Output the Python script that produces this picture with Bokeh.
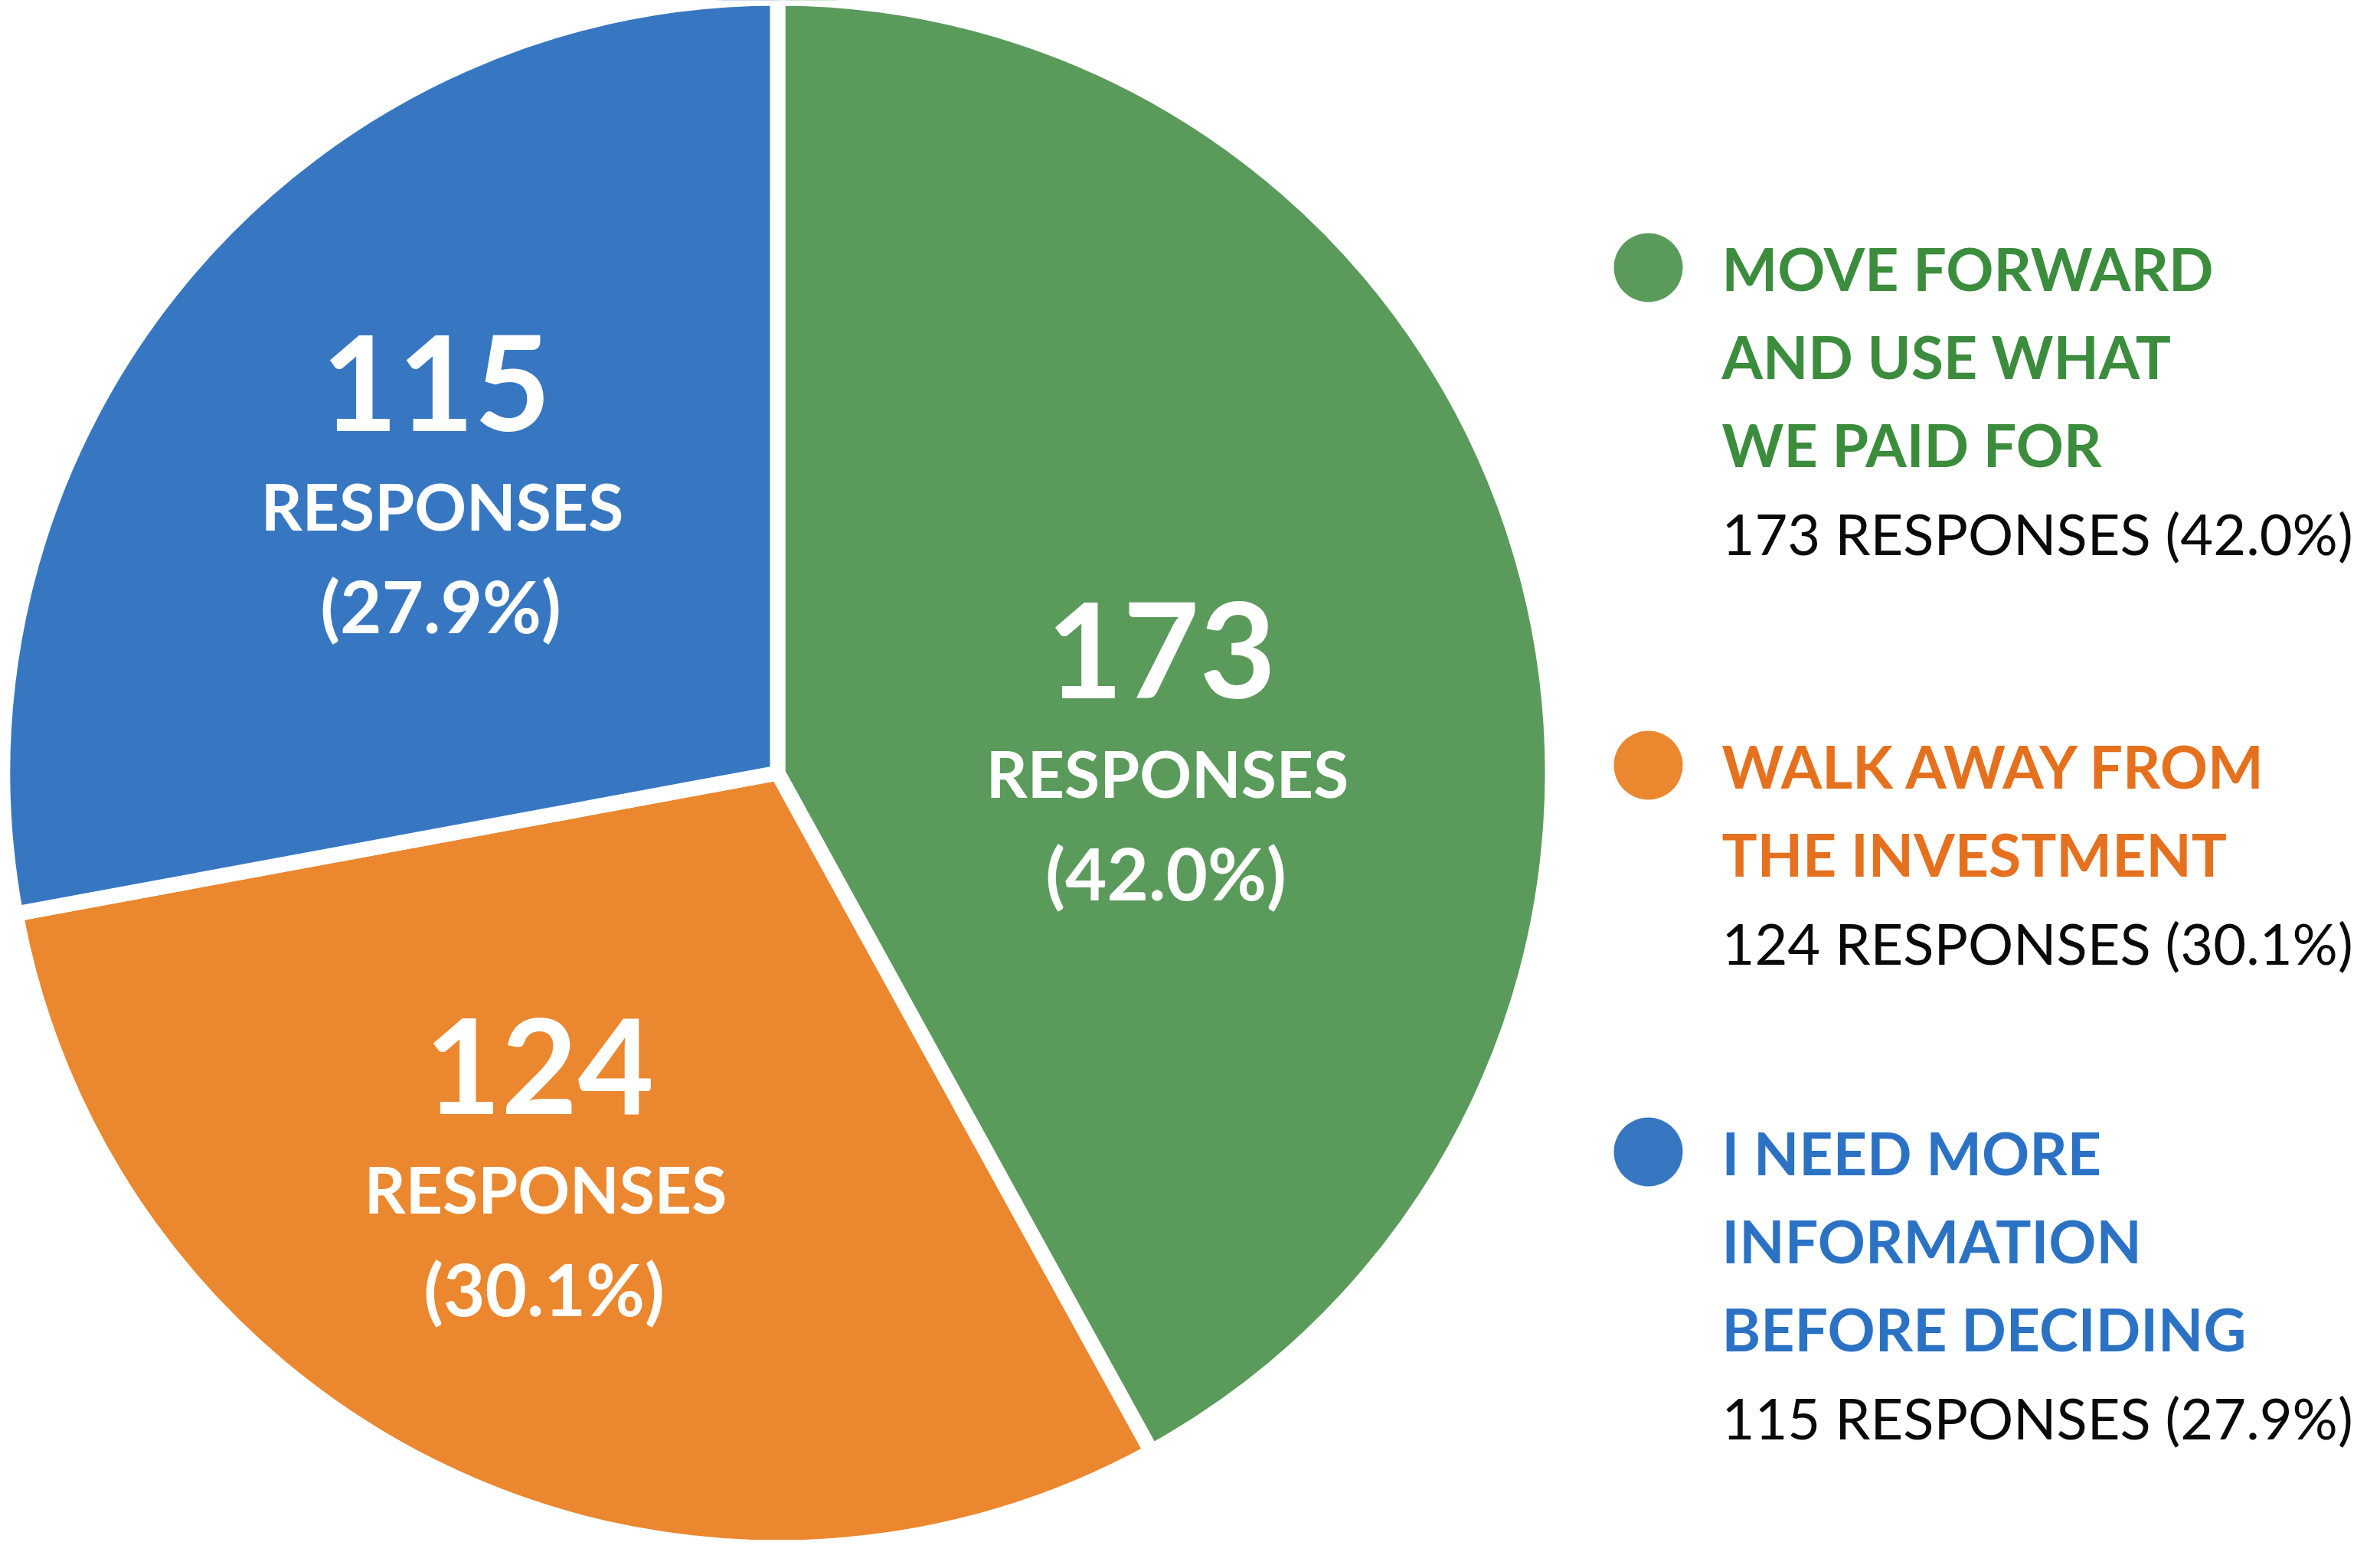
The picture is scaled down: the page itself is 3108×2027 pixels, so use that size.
import math
from bokeh.plotting import figure
from bokeh.models import Range1d, ColumnDataSource
from bokeh.core.properties import value
from bokeh.embed import file_html
from bokeh.resources import INLINE

# ---------------- data ----------------
categories = [
    "MOVE FORWARD AND USE WHAT WE PAID FOR",
    "WALK AWAY FROM THE INVESTMENT",
    "I NEED MORE INFORMATION BEFORE DECIDING",
]
legend_lines = [
    ["MOVE FORWARD", "AND USE WHAT", "WE PAID FOR"],
    ["WALK AWAY FROM", "THE INVESTMENT"],
    ["I NEED MORE", "INFORMATION", "BEFORE DECIDING"],
]
responses = [173, 124, 115]

# ---------------- styles / layout ----------------
slice_colors = ["#5A9A5B", "#EB872F", "#3777C2"]
legend_text_colors = ["#3C8C3D", "#E5711F", "#2B72C5"]
FONT = "Lato"

OFF = 8
PAGE_H = 2027
W, H = 3092, 2011


def sy(y):
    """screen y (page pixel) -> data y"""
    return PAGE_H - y


p = figure(width=W, height=H,
           x_range=Range1d(OFF, OFF + W), y_range=Range1d(PAGE_H - OFF - H, PAGE_H - OFF),
           output_backend="svg", toolbar_location=None,
           x_axis_location=None, y_axis_location=None, min_border=0)
p.grid.visible = False
p.outline_line_color = None
p.background_fill_color = "white"
p.border_fill_color = "white"

# ---------------- pie ----------------
CX, CY, R, GAP = 1023, 1017, 1012, 20
total = sum(responses)
starts, ends, pcts = [], [], []
cum = 0
for v in responses:
    starts.append(math.pi / 2 - 2 * math.pi * cum / total)
    cum += v
    ends.append(math.pi / 2 - 2 * math.pi * cum / total)
    pcts.append(100.0 * v / total)

src = ColumnDataSource(dict(x=[CX] * 3, y=[sy(CY)] * 3, start=starts, end=ends,
                            color=slice_colors))
p.wedge(x="x", y="y", radius=R, start_angle="start", end_angle="end", direction="clock",
        fill_color="color", line_color="white", line_width=GAP, line_join="miter", source=src)

# labels inside slices (anchor = centre of the "RESPONSES" line, screen px)
label_anchor = [(1532, 1017), (720, 1560), (585, 668)]
cnt_x, cnt_y, rs_x, rs_y, pc_x, pc_y, cnt_t, pc_t = [], [], [], [], [], [], [], []
for (ax, ay), v, pc in zip(label_anchor, responses, pcts):
    cnt_x.append(ax - 8); cnt_y.append(sy(ay - 160)); cnt_t.append(str(v))
    rs_x.append(ax); rs_y.append(sy(ay))
    pc_x.append(ax - 2); pc_y.append(sy(ay + 130)); pc_t.append("(%.1f%%)" % pc)

p.text(x=cnt_x, y=cnt_y, text=cnt_t, text_font=value(FONT), text_font_style="bold",
       text_font_size="172px", text_color="white", text_align="center", text_baseline="middle")
p.text(x=rs_x, y=rs_y, text=["RESPONSES"] * 3, text_font=value(FONT), text_font_style="bold",
       text_font_size="84px", text_color="white", text_align="center", text_baseline="middle")
p.text(x=pc_x, y=pc_y, text=pc_t, text_font=value(FONT), text_font_style="bold",
       text_font_size="94px", text_color="white", text_align="center", text_baseline="middle")

# ---------------- legend ----------------
DOT_X, TEXT_X = 2160, 2256
group_y = [357, 1007, 1512]
LINE = 115
dx, dy, dcol = [], [], []
for gy, lines, col, tcol, v, pc in zip(group_y, legend_lines, slice_colors, legend_text_colors,
                                       responses, pcts):
    dx.append(DOT_X); dy.append(sy(gy)); dcol.append(col)
    ys = [sy(gy + i * LINE) for i in range(len(lines))]
    p.text(x=[TEXT_X] * len(lines), y=ys, text=lines, text_font=value(FONT),
           text_font_style="bold", text_font_size="77px", text_color=tcol,
           text_align="left", text_baseline="middle")
    p.text(x=[TEXT_X], y=[sy(gy + len(lines) * LINE + 2)], text=["%d RESPONSES (%.1f%%)" % (v, pc)],
           text_font=value(FONT), text_font_style="normal", text_font_size="74px",
           text_color="#0A0A0A", text_align="left", text_baseline="middle")

p.scatter(x=dx, y=dy, marker="circle", size=90, fill_color=dcol, line_color=None)

open("out.html", "w").write(file_html(p, INLINE))
